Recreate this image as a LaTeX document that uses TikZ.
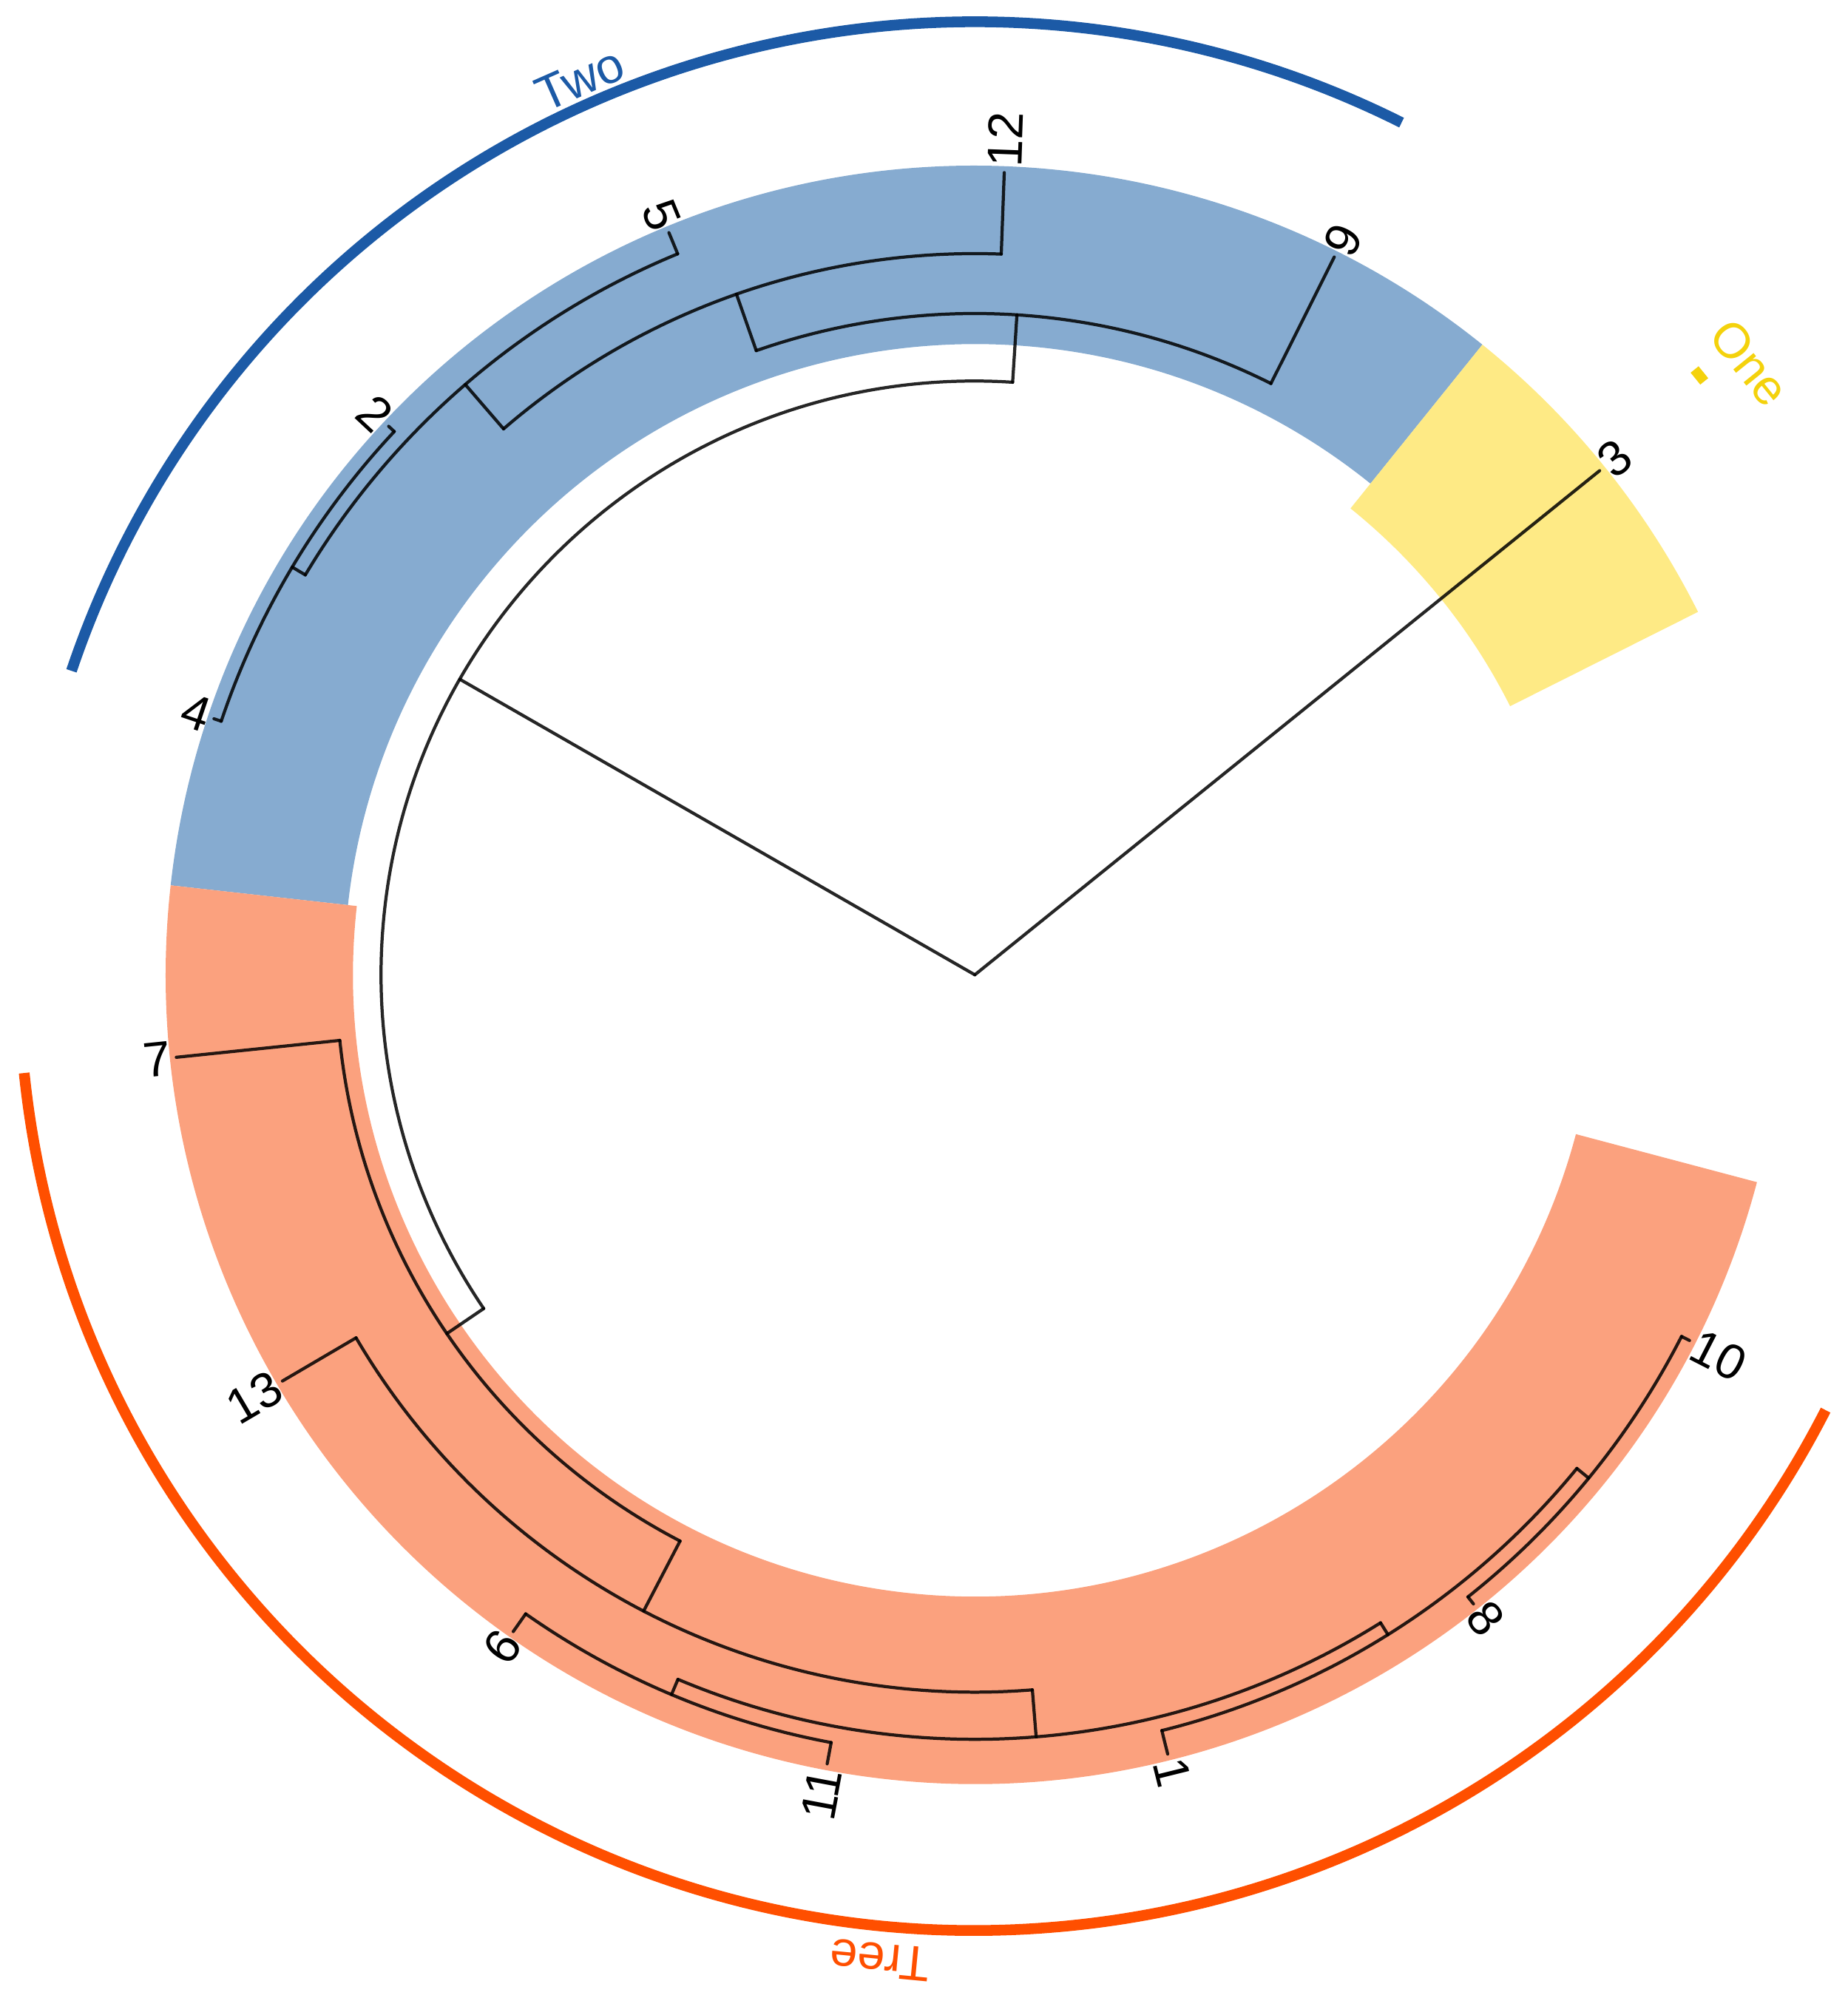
\documentclass[tikz,border=0pt]{standalone}
\usepackage{fontspec}
\setmainfont{Liberation Sans}
\usetikzlibrary{calc}
\definecolor{bandblue}{HTML}{86ABD0}
\definecolor{bandyel}{HTML}{FEEA85}
\definecolor{bandsal}{HTML}{FBA17E}
\definecolor{twoc}{HTML}{1C5AA6}
\definecolor{treec}{HTML}{FF4F00}
\definecolor{onec}{HTML}{F4D20C}
\begin{document}
\begin{tikzpicture}[x=0.01cm,y=0.01cm,
  br/.style={line width=0.7pt,draw=black,draw opacity=0.85,line cap=round,line join=round},
  lab/.style={font=\fontsize{11}{13}\selectfont,inner sep=1pt},
  grp/.style={line width=2.4pt}]
\useasboundingbox (-765,-803) rectangle (685,765);
% bands
\fill[bandblue] (51.15:495) arc[start angle=51.15,end angle=173.65,radius=495] -- (173.65:635) arc[start angle=173.65,end angle=51.15,radius=635] -- cycle;
\fill[bandyel] (26.65:470) arc[start angle=26.65,end angle=51.15,radius=470] -- (51.15:635) arc[start angle=51.15,end angle=26.65,radius=635] -- cycle;
\fill[bandsal] (173.65:488) arc[start angle=173.65,end angle=345.15,radius=488] -- (345.15:635) arc[start angle=345.15,end angle=173.65,radius=635] -- cycle;
% nodes
\coordinate (root) at (0,0);
\coordinate (A) at (150.15:466);
\coordinate (Two) at (86.35:519);
\coordinate (B) at (109.3:566);
\coordinate (C) at (130.8:612);
\coordinate (D) at (149.15:624);
\coordinate (Tr) at (214.2:501);
\coordinate (E) at (242.5:563);
\coordinate (F) at (274.6:600);
\coordinate (G) at (247.15:613);
\coordinate (H) at (302.05:611);
\coordinate (I) at (320.65:623);
\foreach \n/\a in {3/38.9,9/63.4,12/87.9,5/112.4,2/136.9,4/161.4,7/185.9,13/210.4,6/234.9,11/259.4,1/283.9,8/308.4,10/332.9}
  \coordinate (l\n) at (\a:630);
% branches
\draw[br] (root) -- (l3);
\draw[br] (root) -- (A);
\draw[br] (86.35:466) arc[start angle=86.35,end angle=214.2,radius=466];
\draw[br] (86.35:466) -- (Two);
\draw[br] (214.2:466) -- (Tr);
\draw[br] (63.4:519) arc[start angle=63.4,end angle=109.3,radius=519];
\draw[br] (63.4:519) -- (l9);
\draw[br] (109.3:519) -- (B);
\draw[br] (87.9:566) arc[start angle=87.9,end angle=130.8,radius=566];
\draw[br] (87.9:566) -- (l12);
\draw[br] (130.8:566) -- (C);
\draw[br] (112.4:612) arc[start angle=112.4,end angle=149.15,radius=612];
\draw[br] (112.4:612) -- (l5);
\draw[br] (149.15:612) -- (D);
\draw[br] (136.9:624) arc[start angle=136.9,end angle=161.4,radius=624];
\draw[br] (136.9:624) -- (l2);
\draw[br] (161.4:624) -- (l4);
\draw[br] (185.9:501) arc[start angle=185.9,end angle=242.5,radius=501];
\draw[br] (185.9:501) -- (l7);
\draw[br] (242.5:501) -- (E);
\draw[br] (210.4:563) arc[start angle=210.4,end angle=274.6,radius=563];
\draw[br] (210.4:563) -- (l13);
\draw[br] (274.6:563) -- (F);
\draw[br] (247.15:600) arc[start angle=247.15,end angle=302.05,radius=600];
\draw[br] (247.15:600) -- (G);
\draw[br] (302.05:600) -- (H);
\draw[br] (234.9:613) arc[start angle=234.9,end angle=259.4,radius=613];
\draw[br] (234.9:613) -- (l6);
\draw[br] (259.4:613) -- (l11);
\draw[br] (283.9:611) arc[start angle=283.9,end angle=320.65,radius=611];
\draw[br] (283.9:611) -- (l1);
\draw[br] (320.65:611) -- (I);
\draw[br] (308.4:623) arc[start angle=308.4,end angle=332.9,radius=623];
\draw[br] (308.4:623) -- (l8);
\draw[br] (332.9:623) -- (l10);
% leaf labels
\foreach \n/\a in {3/38.9,9/63.4,12/87.9,1/283.9,8/308.4,10/332.9}
  \node[lab,anchor=west,rotate=\a] (t\n) at (l\n) {\n};
\foreach \n/\a in {5/112.4,2/136.9,4/161.4,7/185.9,13/210.4,6/234.9,11/259.4}
  \node[lab,anchor=east,rotate=\a-180] (t\n) at (l\n) {\n};
% group arcs
\draw[grp,twoc] (63.4:748) arc[start angle=63.4,end angle=161.4,radius=748];
\node[lab,twoc,rotate=23.8] (gtwo) at (113.8:768) {Two};
\draw[grp,treec] (185.9:750) arc[start angle=185.9,end angle=332.9,radius=750];
\node[lab,treec,rotate=174.5] (gtree) at (264.5:777) {Tree};
\coordinate (om) at (39.6:738);
\fill[onec,rotate around={-51:(om)}] ($(om)+(-6,-4)$) rectangle ($(om)+(6,4)$);
\node[lab,onec,rotate=-51.1] (gone) at (38.3:775) {One};
\end{tikzpicture}
\end{document}
